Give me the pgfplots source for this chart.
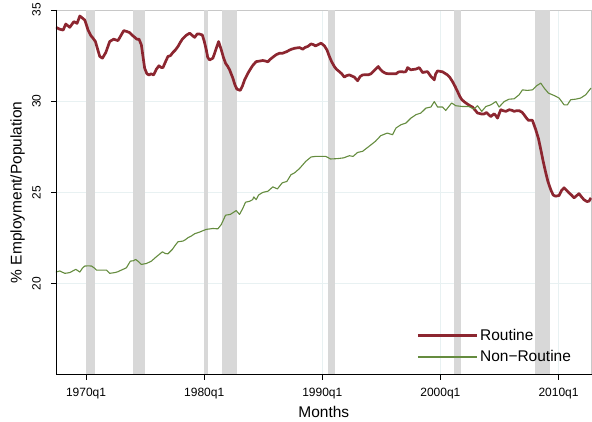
\documentclass[border=0pt]{standalone}
\usepackage{pgfplots}
\pgfplotsset{compat=1.18}
\usepackage{fontspec}
\setmainfont{Liberation Sans}
\definecolor{routine}{RGB}{140,38,48}
\definecolor{nonroutine}{RGB}{101,140,63}
\definecolor{recgray}{RGB}{216,216,216}
\definecolor{gridcol}{RGB}{232,241,242}
\definecolor{framegray}{RGB}{200,200,200}
\begin{document}
\begin{tikzpicture}
\begin{axis}[
  scale only axis, width=536pt, height=365pt,
  xmin=1967.45, xmax=2012.8, ymin=15, ymax=35,
  xtick={1970,1980,1990,2000,2010},
  xticklabels={1970q1,1980q1,1990q1,2000q1,2010q1},
  ytick={20,25,30,35},
  xtick pos=bottom, ytick pos=left,
  tick align=outside, major tick length=5pt,
  tick style={black, line width=0.6pt},
  axis line style={framegray, line width=0.8pt},
  grid=major, major grid style={gridcol, line width=0.8pt},
  /pgf/number format/assume math mode=true,
  ticklabel style={font=\fontsize{12}{14}\selectfont},
  yticklabel style={rotate=90, anchor=south, inner xsep=2pt, inner ysep=10pt},
  xticklabel style={inner xsep=3pt, inner ysep=8pt},
  xlabel={Months}, ylabel={\% Employment/Population},
  xlabel shift=-4pt, ylabel shift=-6pt,
  label style={font=\fontsize{15.5}{18}\selectfont},
  legend style={at={(rel axis cs:0.667,0.137)}, anchor=north west, draw=none, fill=none,
    font=\fontsize{15.5}{18}\selectfont, row sep=5pt},
  legend cell align=left,
  legend image code/.code={\draw[#1] (0pt,0pt) -- (59pt,0pt);},
]
% recession bands
\addplot[fill=recgray, draw=none, forget plot] coordinates {(1970.0,15) (1970.75,15) (1970.75,35) (1970.0,35)} -- cycle;
\addplot[fill=recgray, draw=none, forget plot] coordinates {(1973.95,15) (1975.02,15) (1975.02,35) (1973.95,35)} -- cycle;
\addplot[fill=recgray, draw=none, forget plot] coordinates {(1980.0,15) (1980.34,15) (1980.34,35) (1980.0,35)} -- cycle;
\addplot[fill=recgray, draw=none, forget plot] coordinates {(1981.52,15) (1982.79,15) (1982.79,35) (1981.52,35)} -- cycle;
\addplot[fill=recgray, draw=none, forget plot] coordinates {(1990.46,15) (1991.05,15) (1991.05,35) (1990.46,35)} -- cycle;
\addplot[fill=recgray, draw=none, forget plot] coordinates {(2001.18,15) (2001.75,15) (2001.75,35) (2001.18,35)} -- cycle;
\addplot[fill=recgray, draw=none, forget plot] coordinates {(2007.98,15) (2009.24,15) (2009.24,35) (2007.98,35)} -- cycle;
% Routine
\addplot[routine, line width=2.7pt, line join=round] table {
1967.45 34.05
1967.75 33.95
1968.06 33.9
1968.28 34.23
1968.62 34.05
1968.96 34.36
1969.24 34.27
1969.47 34.67
1969.7 34.55
1969.89 34.45
1970.17 33.9
1970.4 33.6
1970.59 33.45
1970.79 33.27
1971.0 32.8
1971.16 32.45
1971.39 32.36
1971.67 32.67
1972.0 33.27
1972.34 33.4
1972.7 33.32
1972.95 33.6
1973.19 33.87
1973.45 33.82
1973.69 33.76
1973.9 33.62
1974.12 33.5
1974.3 33.4
1974.48 33.4
1974.68 33.09
1974.85 32.3
1974.96 31.81
1975.15 31.5
1975.33 31.44
1975.5 31.5
1975.72 31.44
1975.95 31.75
1976.17 31.94
1976.35 31.85
1976.51 31.84
1976.75 32.2
1976.93 32.45
1977.15 32.5
1977.35 32.67
1977.55 32.8
1977.78 33.0
1978.0 33.25
1978.15 33.4
1978.45 33.6
1978.77 33.73
1979.0 33.6
1979.19 33.5
1979.4 33.68
1979.55 33.69
1979.84 33.63
1980.0 33.3
1980.18 32.81
1980.3 32.4
1980.46 32.26
1980.74 32.36
1981.0 32.85
1981.22 33.27
1981.45 32.81
1981.63 32.4
1981.81 32.08
1982.0 31.9
1982.15 31.72
1982.43 31.26
1982.6 30.9
1982.77 30.66
1983.05 30.59
1983.25 30.85
1983.42 31.17
1983.6 31.4
1983.78 31.62
1984.1 31.95
1984.4 32.17
1984.7 32.2
1984.96 32.23
1985.2 32.2
1985.39 32.16
1985.6 32.3
1985.81 32.41
1986.1 32.55
1986.38 32.63
1986.6 32.62
1986.8 32.67
1987.0 32.72
1987.22 32.8
1987.4 32.85
1987.65 32.9
1988.06 32.94
1988.34 32.85
1988.55 32.95
1988.77 33.0
1989.05 33.14
1989.25 33.1
1989.41 33.03
1989.65 33.1
1989.9 33.18
1990.18 33.03
1990.4 32.8
1990.6 32.45
1990.8 32.15
1991.02 31.9
1991.2 31.75
1991.44 31.62
1991.65 31.5
1991.86 31.32
1992.05 31.4
1992.29 31.44
1992.5 31.38
1992.71 31.32
1992.99 31.12
1993.2 31.35
1993.41 31.44
1993.7 31.45
1993.9 31.45
1994.12 31.5
1994.4 31.68
1994.74 31.9
1994.9 31.75
1995.1 31.62
1995.4 31.52
1995.67 31.5
1995.95 31.5
1996.24 31.5
1996.45 31.6
1996.66 31.62
1996.9 31.6
1997.08 31.62
1997.22 31.84
1997.5 31.72
1997.7 31.74
1997.93 31.76
1998.21 31.84
1998.49 31.57
1998.7 31.6
1998.91 31.62
1999.2 31.35
1999.48 31.17
1999.6 31.5
1999.76 31.66
2000.0 31.63
2000.18 31.61
2000.4 31.52
2000.6 31.44
2000.8 31.3
2001.02 31.08
2001.25 30.8
2001.45 30.53
2001.65 30.25
2001.82 30.08
2002.05 29.95
2002.29 29.84
2002.5 29.75
2002.71 29.68
2002.95 29.5
2003.14 29.35
2003.35 29.32
2003.51 29.29
2003.7 29.3
2003.9 29.38
2004.1 29.25
2004.27 29.16
2004.55 29.31
2004.7 29.2
2004.83 29.07
2005.11 29.53
2005.3 29.48
2005.54 29.44
2005.82 29.53
2006.05 29.5
2006.24 29.44
2006.45 29.48
2006.66 29.48
2006.9 29.4
2007.08 29.26
2007.25 29.1
2007.45 28.95
2007.6 28.95
2007.79 28.95
2008.07 28.44
2008.3 27.95
2008.5 27.34
2008.7 26.7
2008.92 26.07
2009.1 25.6
2009.34 25.15
2009.55 24.85
2009.76 24.79
2010.05 24.83
2010.25 25.1
2010.47 25.25
2010.7 25.1
2010.89 24.97
2011.1 24.85
2011.31 24.7
2011.5 24.8
2011.73 24.93
2011.95 24.75
2012.15 24.6
2012.4 24.5
2012.57 24.51
2012.75 24.7
};
\addlegendentry{Routine}
% Non-Routine
\addplot[nonroutine, line width=1.1pt, line join=round] table {
1967.44 20.63
1967.78 20.69
1968.0 20.62
1968.2 20.56
1968.62 20.6
1968.9 20.7
1969.13 20.78
1969.47 20.63
1969.7 20.85
1969.89 20.96
1970.2 20.97
1970.46 20.96
1970.7 20.85
1970.88 20.74
1971.3 20.74
1971.72 20.74
1972.0 20.56
1972.43 20.6
1972.7 20.65
1972.99 20.74
1973.2 20.8
1973.42 20.87
1973.75 21.23
1974.0 21.25
1974.2 21.32
1974.45 21.2
1974.68 21.05
1975.11 21.1
1975.53 21.23
1975.95 21.47
1976.2 21.6
1976.46 21.74
1976.7 21.65
1976.93 21.63
1977.3 21.87
1977.55 22.1
1977.78 22.29
1978.2 22.33
1978.4 22.4
1978.62 22.51
1978.9 22.6
1979.19 22.73
1979.61 22.82
1979.9 22.9
1980.18 22.97
1980.74 23.02
1981.16 23.0
1981.45 23.24
1981.81 23.75
1982.21 23.79
1982.71 24.0
1982.99 23.79
1983.25 24.1
1983.5 24.46
1983.84 24.51
1984.1 24.6
1984.2 24.75
1984.4 24.6
1984.6 24.85
1984.96 25.0
1985.39 25.06
1985.81 25.3
1986.2 25.19
1986.6 25.52
1987.0 25.6
1987.35 25.97
1987.65 26.07
1988.06 26.3
1988.6 26.7
1989.05 26.94
1989.41 26.97
1989.9 26.97
1990.3 26.97
1990.7 26.83
1991.27 26.85
1991.8 26.89
1992.29 27.01
1992.6 26.97
1992.99 27.19
1993.41 27.25
1993.95 27.52
1994.5 27.8
1994.95 28.11
1995.5 28.25
1995.95 28.16
1996.24 28.53
1996.66 28.71
1997.08 28.8
1997.5 29.07
1997.93 29.26
1998.35 29.35
1998.77 29.62
1999.2 29.68
1999.48 29.98
1999.76 29.68
2000.18 29.68
2000.45 29.49
2000.95 29.9
2001.3 29.75
2001.85 29.71
2002.4 29.71
2002.85 29.57
2003.14 29.75
2003.5 29.44
2003.85 29.71
2004.27 29.8
2004.7 29.98
2004.97 29.68
2005.4 29.98
2005.82 30.11
2006.24 30.13
2006.66 30.35
2006.95 30.62
2007.37 30.59
2007.79 30.62
2008.13 30.84
2008.5 30.99
2008.78 30.72
2009.15 30.44
2009.63 30.31
2010.05 30.17
2010.47 29.8
2010.75 29.8
2011.03 30.08
2011.45 30.11
2011.87 30.17
2012.3 30.35
2012.75 30.72
};
\addlegendentry{Non\textminus Routine}
\end{axis}
\draw[black, line width=0.8pt] (current axis.north west) -- (current axis.south west) -- (current axis.south east);
\path ([yshift=10pt]current axis.north east) rectangle ([xshift=-56pt,yshift=-46pt]current axis.south west);
\end{tikzpicture}
\end{document}
